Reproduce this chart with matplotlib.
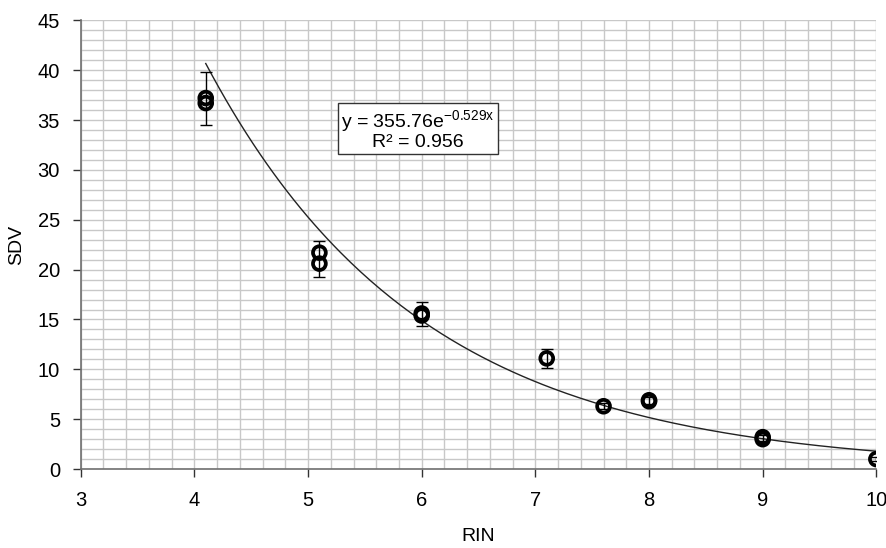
import numpy as np
import matplotlib
matplotlib.use("Agg")
import matplotlib.pyplot as plt
from matplotlib.ticker import MultipleLocator

plt.rcParams["font.family"] = ["Liberation Sans", "DejaVu Sans"]

# measured points (RIN, SDV)
rin = [4.1, 4.1, 5.1, 5.1, 6.0, 6.0, 7.1, 7.6, 8.0, 8.0, 9.0, 9.0, 10.0]
sdv = [37.2, 36.7, 21.7, 20.6, 15.6, 15.4, 11.1, 6.3, 6.9, 6.8, 3.2, 3.0, 1.0]

# error bars (one per RIN group)
err_x = [4.1, 5.1, 6.0, 7.1, 7.6, 8.0, 9.0, 10.0]
err_lo = [34.5, 19.3, 14.3, 10.1, 6.0, 6.5, 2.8, 0.8]
err_hi = [39.8, 22.9, 16.8, 12.0, 6.6, 7.2, 3.4, 1.2]

# exponential trendline y = a * exp(b x)
fit_a = 355.76
fit_b = -0.529
fit_r2 = 0.956
fit_range = (4.1, 10.0)

fig, ax = plt.subplots(figsize=(8.87, 5.48), dpi=100)
fig.subplots_adjust(left=0.091, right=0.988, top=0.963, bottom=0.144)

ax.set_xlim(3, 10)
ax.set_ylim(0, 45)
ax.xaxis.set_major_locator(MultipleLocator(1))
ax.xaxis.set_minor_locator(MultipleLocator(0.2))
ax.yaxis.set_major_locator(MultipleLocator(5))
ax.yaxis.set_minor_locator(MultipleLocator(1))
ax.grid(True, which="both", color="#c8c8c8", linewidth=1.0)
ax.set_axisbelow(True)

for side in ["top", "right"]:
    ax.spines[side].set_visible(False)
for side in ["left", "bottom"]:
    ax.spines[side].set_color("#707070")
    ax.spines[side].set_linewidth(1.2)

ax.tick_params(which="major", direction="out", length=6, width=1, color="#333333",
               labelsize=14.5)
ax.tick_params(which="minor", length=0)
ax.tick_params(axis="x", pad=10)
ax.tick_params(axis="y", pad=9)

# trendline
xs = np.linspace(fit_range[0], fit_range[1], 200)
ax.plot(xs, fit_a * np.exp(fit_b * xs), color="#222222", linewidth=1.0, zorder=3)

# error bars
mid = [(lo + hi) / 2 for lo, hi in zip(err_lo, err_hi)]
yerr = [[m - lo for m, lo in zip(mid, err_lo)], [hi - m for m, hi in zip(mid, err_hi)]]
ax.errorbar(err_x, mid, yerr=yerr, fmt="none", ecolor="black", elinewidth=1.0,
            capsize=4, capthick=1.0, zorder=4)

# points
ax.scatter(rin, sdv, s=85, facecolors="none", edgecolors="black", linewidths=2.7, zorder=5)

ax.set_xlabel("RIN", fontsize=14, labelpad=13)
ax.set_ylabel("SDV", fontsize=14, labelpad=9)

ax.text(0.424, 0.756,
        f"y = {fit_a:.2f}e" + r"$\mathregular{^{" + f"{fit_b:.3f}x" + r"}}$"
        + f"\nR² = {fit_r2:.3f}",
        transform=ax.transAxes, fontsize=14, ha="center", va="center",
        linespacing=1.0, zorder=6,
        bbox=dict(boxstyle="square,pad=0.15", facecolor="white", edgecolor="#333333",
                  linewidth=1.0))

fig.savefig("out.png", dpi=100)
